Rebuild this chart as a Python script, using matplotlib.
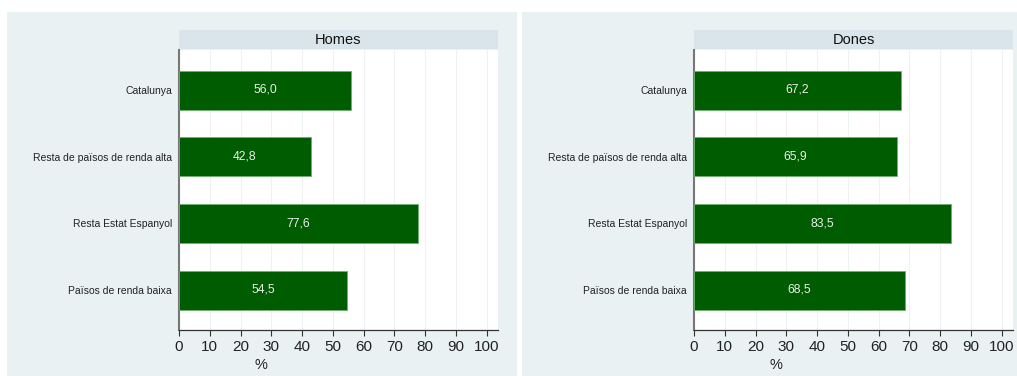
import matplotlib
matplotlib.use("Agg")
import matplotlib.pyplot as plt
from matplotlib.patches import Rectangle

categories = ["Catalunya", "Resta de països de renda alta", "Resta Estat Espanyol", "Països de renda baixa"]
homes = [56.0, 42.8, 77.6, 54.5]
dones = [67.2, 65.9, 83.5, 68.5]
panel_titles = ["Homes", "Dones"]
xticks = list(range(0, 101, 10))
xlabel = "%"

plt.rcParams['font.family'] = ['Liberation Sans', 'DejaVu Sans']

W, H = 1017, 376
fig = plt.figure(figsize=(W/100, H/100), dpi=100)
fig.patch.set_facecolor('white')

bg = '#eaf1f3'
strip = '#d9e5eb'
green = '#005c00'

# panel backgrounds
for (x0, x1) in [(7, 517), (522, 1017)]:
    fig.patches.append(Rectangle((x0/W, 0), (x1-x0)/W, (H-12)/H, transform=fig.transFigure,
                                 facecolor=bg, edgecolor='none', zorder=-5))

axes_px = [(179, 498), (694, 1013)]
top, bottom = 50, 330
for (xl, xr), title, vals in zip(axes_px, panel_titles, [homes, dones]):
    ax = fig.add_axes([xl/W, (H-bottom)/H, (xr-xl)/W, (bottom-top)/H])
    ax.set_zorder(2)
    ax.set_facecolor('white')
    ypos = list(range(len(categories)))
    ax.barh(ypos, vals, height=0.585, color=green, edgecolor='#6fb06f', linewidth=0.6, zorder=3)
    for y, v in zip(ypos, vals):
        ax.text(v/2, y, f"{v:.1f}".replace('.', ','), color='#e8f0e8', ha='center', va='center',
                fontsize=8.7, zorder=4)
    ax.set_xlim(0, 103.7)
    ax.set_ylim(3.6, -0.6)
    ax.set_yticks(ypos)
    ax.set_yticklabels(categories, fontsize=7.5, color='#222222')
    ax.tick_params(axis='y', length=0, pad=5)
    ax.set_xticks(xticks)
    ax.set_xticklabels([str(t) for t in xticks], fontsize=11, color='#222222')
    ax.tick_params(axis='x', length=4, width=0.8, color='#333333', pad=3)
    ax.grid(axis='x', color='#edf3f5', linewidth=0.8, zorder=0)
    ax.set_axisbelow(True)
    for s in ['top', 'right']:
        ax.spines[s].set_visible(False)
    ax.spines['left'].set_color('#777777')
    ax.spines['left'].set_linewidth(1.5)
    ax.spines['bottom'].set_color('#333333')
    ax.spines['bottom'].set_linewidth(0.9)
    ax.set_xlabel(xlabel, fontsize=10.5, color='#222222')
    ax.xaxis.set_label_coords(82/(xr-xl), -0.10)
    # title strip
    fig.patches.append(Rectangle((xl/W, (H-49)/H), (xr-xl)/W, 19/H, transform=fig.transFigure,
                                 facecolor=strip, edgecolor='none', zorder=1))
    fig.text((xl+xr)/2/W, (H-39.5)/H, title, ha='center', va='center', fontsize=10.5, color='#111111')

fig.savefig('out.png', dpi=100, facecolor='white')
